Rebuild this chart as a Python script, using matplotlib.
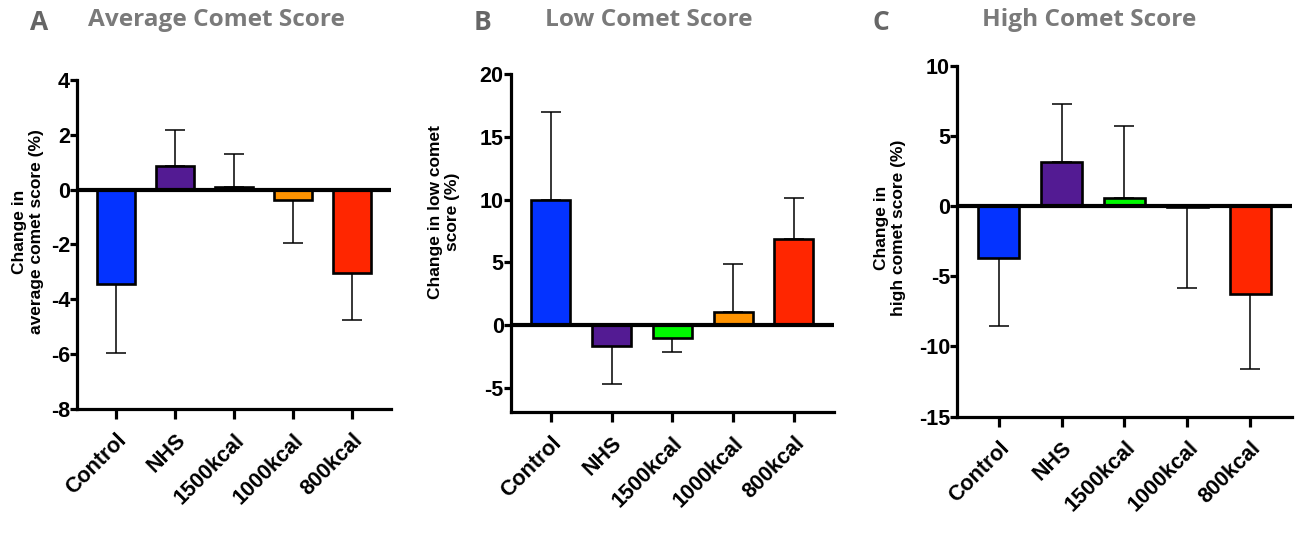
import matplotlib.pyplot as plt

plt.rcParams["axes.unicode_minus"] = False

groups = ["Control", "NHS", "1500kcal", "1000kcal", "800kcal"]
colors = ["#0433FF", "#531B93", "#00F900", "#FF9300", "#FF2600"]

# mean change and error bar length (drawn away from zero only)
avg_mean = [-3.43, 0.88, 0.1, -0.36, -3.03]
avg_err = [2.52, 1.31, 1.21, 1.57, 1.71]
low_mean = [10.0, -1.65, -1.0, 1.06, 6.85]
low_err = [7.0, 3.05, 1.17, 3.8, 3.25]
high_mean = [-3.72, 3.15, 0.6, -0.1, -6.28]
high_err = [4.83, 4.15, 5.1, 5.73, 5.3]

panels = [
    ("A", "Average Comet Score", "Change in\naverage comet score (%)",
     avg_mean, avg_err, (-8, 4), [-8, -6, -4, -2, 0, 2, 4],
     [0.0593, 0.2604, 0.2417, 0.595], (28, 232), (30, 88)),
    ("B", "Low Comet Score", "Change in low comet\nscore (%)",
     low_mean, low_err, (-6.93, 20), [-5, 0, 5, 10, 15, 20],
     [0.3931, 0.2550, 0.2489, 0.611], (444, 212), (474, 545)),
    ("C", "High Comet Score", "Change in\nhigh comet score (%)",
     high_mean, high_err, (-15, 10), [-15, -10, -5, 0, 5, 10],
     [0.7367, 0.2465, 0.2579, 0.6347], (890, 228), (873, 982)),
]

W, H = 1299, 553
fig = plt.figure(figsize=(W / 100, H / 100), dpi=100)
tick_font = "Liberation Sans"
title_gray = "#7a7a7a"

for letter, title, ylab, means, errs, ylim, yticks, rect, labpos, tpos in panels:
    ax = fig.add_axes(rect)
    x = list(range(len(groups)))
    lower = [e if m < 0 else 0 for m, e in zip(means, errs)]
    upper = [e if m >= 0 else 0 for m, e in zip(means, errs)]
    ax.bar(x, means, width=0.64, color=colors, edgecolor="black",
           linewidth=1.9, zorder=2)
    ax.errorbar(x, means, yerr=[lower, upper], fmt="none", ecolor="black",
                elinewidth=1.1, capsize=7, capthick=1.1, zorder=1)
    ax.axhline(0, color="black", linewidth=3, zorder=3)
    ax.set_xlim(-0.66, 4.66)
    ax.set_ylim(*ylim)
    ax.set_yticks(yticks)
    ax.set_xticks(x)
    ax.set_xticklabels(groups, rotation=45, ha="right", rotation_mode="anchor",
                       fontsize=15.5, fontweight="bold", family=tick_font)
    for t in ax.get_yticklabels():
        t.set_fontsize(15.5)
        t.set_fontweight("bold")
        t.set_family(tick_font)
    for s in ["top", "right"]:
        ax.spines[s].set_visible(False)
    for s in ["left", "bottom"]:
        ax.spines[s].set_linewidth(2.3)
    ax.tick_params(axis="y", width=2.3, length=5, pad=0)
    ax.tick_params(axis="x", width=2.3, length=7, pad=8)

    fig.text(labpos[0] / W, 1 - labpos[1] / H, ylab, rotation=90,
             ha="center", va="center", multialignment="center",
             fontsize=12.5, fontweight="bold", family=tick_font, linespacing=1.1)
    fig.text(tpos[0] / W, 1 - 22 / H, letter, ha="left", va="center",
             fontsize=19, fontweight="bold", family="Open Sans", color="#666666")
    fig.text(tpos[1] / W, 1 - 20 / H, title, ha="left", va="center",
             fontsize=17.6, fontweight="bold", family="Open Sans", color=title_gray)

fig.savefig("out.png", dpi=100)
